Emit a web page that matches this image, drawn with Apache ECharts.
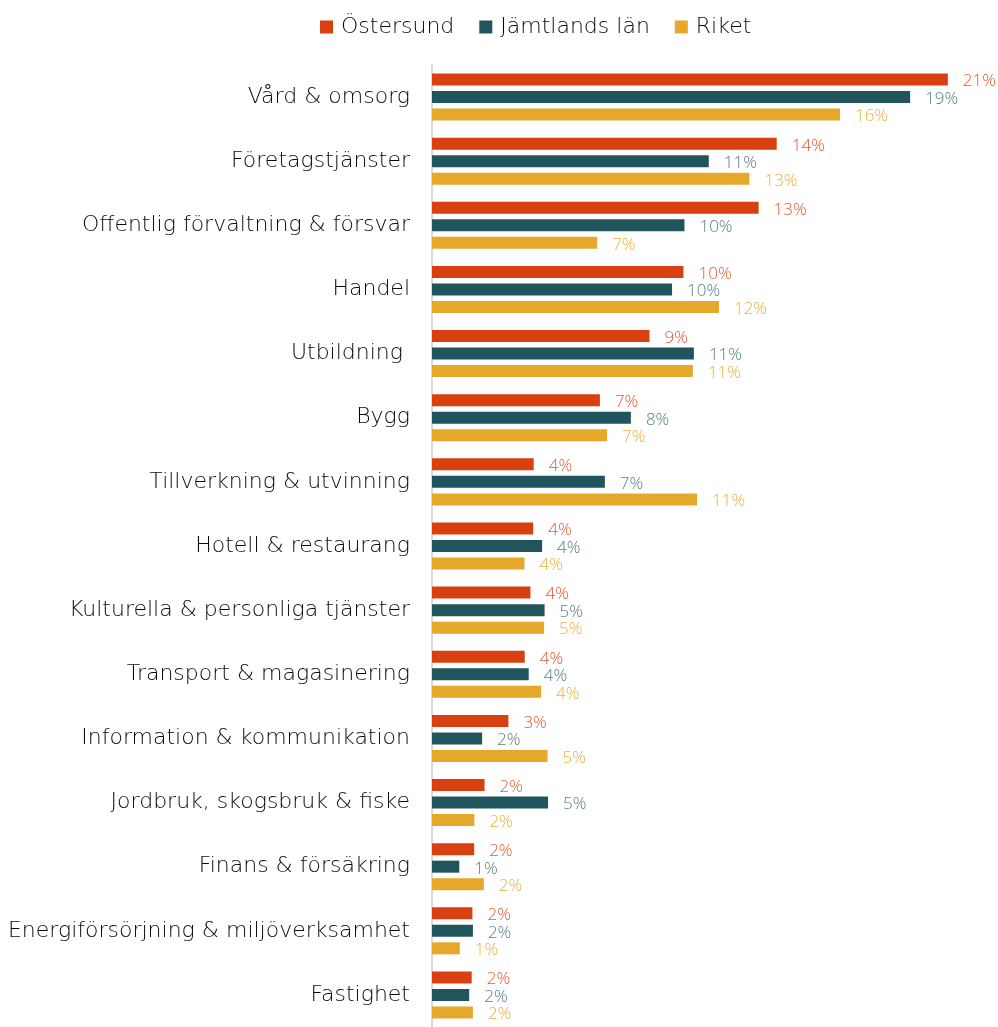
<!DOCTYPE html>
<html>
<head>
<meta charset="utf-8">
<script src="https://cdn.jsdelivr.net/npm/echarts@6/dist/echarts.min.js"></script>
<style>
  html, body { margin: 0; padding: 0; background: #fff; }
  #chart { width: 998px; height: 1027px; }
</style>
</head>
<body>
<div id="chart"></div>
<script>
// Andel sysselsatta per bransch (%)
const categories = [
  'Vård & omsorg',
  'Företagstjänster',
  'Offentlig förvaltning & försvar',
  'Handel',
  'Utbildning ',
  'Bygg',
  'Tillverkning & utvinning',
  'Hotell & restaurang',
  'Kulturella & personliga tjänster',
  'Transport & magasinering',
  'Information & kommunikation',
  'Jordbruk, skogsbruk & fiske',
  'Finans & försäkring',
  'Energiförsörjning & miljöverksamhet',
  'Fastighet'
];
const seriesNames = ['Östersund', 'Jämtlands län', 'Riket'];
const ostersund = [20.8, 13.9, 13.17, 10.14, 8.77, 6.77, 4.1, 4.08, 3.97, 3.74, 3.08, 2.12, 1.7, 1.63, 1.6];
const jamtland  = [19.28, 11.16, 10.18, 9.68, 10.56, 8.02, 6.97, 4.44, 4.54, 3.9, 2.02, 4.68, 1.1, 1.65, 1.5];
const riket     = [16.45, 12.8, 6.66, 11.57, 10.52, 7.06, 10.69, 3.73, 4.52, 4.4, 4.66, 1.71, 2.09, 1.12, 1.65];

const barColors   = ['#D84010', '#20555E', '#E6A82A'];
const labelColors = ['#E5582E', '#557F86', '#EBB038'];
const TEXT_FONT = '"DejaVu Sans", sans-serif';
const VALUE_FONT = '"Open Sans", sans-serif';

const chart = echarts.init(document.getElementById('chart'), null, { renderer: 'canvas' });

const makeSeries = (name, data, i) => ({
  name: name,
  type: 'bar',
  data: data,
  barWidth: 12,
  barGap: '46%',
  itemStyle: { color: barColors[i] },
  label: {
    show: true,
    position: 'right',
    distance: 15,
    formatter: p => Math.round(p.value) + '%',
    color: labelColors[i],
    fontFamily: VALUE_FONT,
    fontWeight: 300,
    fontSize: 17,
    offset: [0, 2]
  },
  emphasis: { disabled: true },
  animation: false
});

chart.setOption({
  animation: false,
  textStyle: { fontFamily: TEXT_FONT },
  legend: {
    top: 11,
    left: 315,
    itemWidth: 13,
    itemHeight: 13,
    itemGap: 25,
    icon: 'rect',
    textStyle: { fontFamily: TEXT_FONT, fontWeight: 200, fontSize: 22, color: '#0a0a0a', padding: [0, 0, 0, 3] },
    data: seriesNames
  },
  grid: {
    left: 432,
    top: 65,
    width: 22 * 24.8,
    height: 970.4,
    containLabel: false
  },
  xAxis: {
    type: 'value',
    min: 0,
    max: 22,
    show: false,
    splitLine: { show: false }
  },
  yAxis: {
    type: 'category',
    inverse: true,
    data: categories,
    axisLine: { show: true, lineStyle: { color: '#D9D9D9', width: 2 } },
    axisTick: { show: false },
    axisLabel: {
      margin: 22,
      fontFamily: TEXT_FONT,
      fontWeight: 200,
      fontSize: 22,
      color: '#0a0a0a'
    }
  },
  series: [
    makeSeries(seriesNames[0], ostersund, 0),
    makeSeries(seriesNames[1], jamtland, 1),
    makeSeries(seriesNames[2], riket, 2)
  ]
});
</script>
</body>
</html>
